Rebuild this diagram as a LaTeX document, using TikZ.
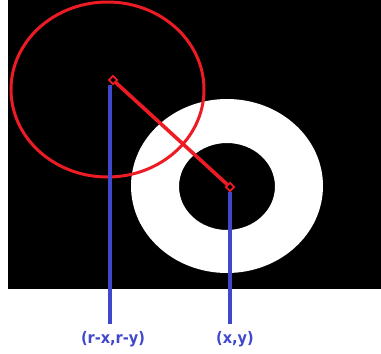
\documentclass[tikz,border=0pt]{standalone}
\usepackage{fontspec}
\newfontfamily\lblfont{DejaVu Sans}
\definecolor{redmark}{RGB}{237,28,36}
\definecolor{bluemark}{RGB}{63,72,204}
\usetikzlibrary{shapes.geometric, positioning, calc}

\begin{document}
\begin{tikzpicture}[x=1pt, y=-1pt,
    pt/.style={diamond, draw=redmark, line width=1.8pt, fill=black, minimum size=9pt, inner sep=0pt},
    lbl/.style={text=bluemark, font=\lblfont\bfseries\fontsize{14.5}{16}\selectfont, inner sep=0pt, yscale=1.1},
    blueline/.style={bluemark, line width=3.4pt}]
    \useasboundingbox (0,0) rectangle (381,354);
    % Black image with white ring
    \fill[black] (8,0) rectangle (381,289);
    \fill[white, even odd rule] (227,186) ellipse [x radius=96, y radius=87]
                                (227,186.5) ellipse [x radius=48, y radius=43.5];
    % Red circle around the mirrored point
    \draw[redmark, line width=3pt] (107.5,89.5) ellipse [x radius=96.5, y radius=87.5];
    % Points and labels
    \node[pt] (pA) at (113,80) {};
    \node[pt] (pB) at (230,187) {};
    \node[lbl] (lblA) at (113,339) {(r-x,r-y)};
    \node[lbl] (lblB) at (235,339) {(x,y)};
    \draw[redmark, line width=3.6pt] (pA) -- (pB);
    \draw[blueline, shorten >=7pt] ($(pA.south)+(-3,0)$) -- ($(pA |- lblA.north)+(-3,0)$);
    \draw[blueline, shorten >=7pt] (pB.south) -- (pB |- lblB.north);
\end{tikzpicture}
\end{document}
